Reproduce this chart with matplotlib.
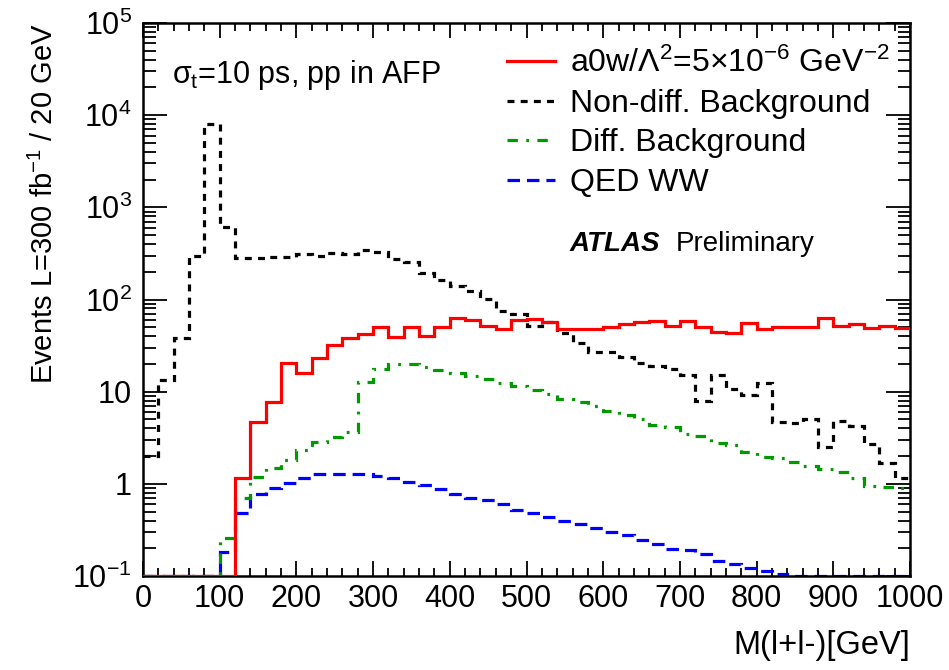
import numpy as np
import matplotlib
matplotlib.use("Agg")
import matplotlib.pyplot as plt
from matplotlib.ticker import FixedLocator, MultipleLocator, LogLocator, NullFormatter

plt.rcParams['font.family'] = ['Liberation Sans', 'DejaVu Sans']
plt.rcParams['mathtext.fontset'] = 'custom'
plt.rcParams['mathtext.rm'] = 'Liberation Sans'
plt.rcParams['mathtext.it'] = 'Liberation Sans'
plt.rcParams['lines.scale_dashes'] = False

# 50 bins of 20 GeV, 0-1000 GeV
edges = np.arange(0, 1001, 20)

signal = [0, 0, 0, 0, 0, 0, 1.15, 4.7, 7.7, 20.3,
          15.8, 23, 32, 37.8, 41.9, 50.6, 38.8, 49.8, 40.4, 49.8,
          62.4, 59.8, 51.4, 47.7, 60.3, 61.3, 56.4, 47.7, 47.7, 47.7,
          50.6, 54, 56.5, 58, 51.9, 58.5, 50.6, 44.6, 43.5, 55,
          47.7, 49.8, 49.8, 50.6, 62.4, 51.4, 53.7, 48.6, 51.4, 49.3]

nondiff = [2.0, 13.4, 38.4, 296, 7950, 610, 283, 279, 290, 290,
           308, 298, 316, 308, 343, 329, 272, 257, 195, 163,
           140, 123, 101, 75, 69, 52, 57, 43, 34, 26.7,
           27, 23.9, 20.3, 19, 17.4, 15.1, 7.95, 15.1, 10.7, 9.2,
           12.5, 4.7, 4.6, 5.1, 2.5, 4.8, 4.25, 2.7, 1.7, 1.16]

diff = [0, 0, 0, 0, 0, 0.26, 0.71, 1.19, 1.5, 1.81,
        2.33, 2.82, 3.2, 3.67, 12.8, 17.8, 19.8, 19.8, 18.4, 17.1,
        15.8, 14.8, 13.7, 12.5, 11.6, 10.4, 9.4, 8.3, 7.8, 7.0,
        6.2, 5.6, 5.1, 4.35, 4.17, 3.47, 3.3, 2.75, 2.63, 2.2,
        1.97, 1.89, 1.74, 1.57, 1.44, 1.35, 1.16, 0.95, 0.93, 0.89]

qedww = [0, 0, 0, 0, 0, 0.18, 0.48, 0.77, 0.91, 1.03,
         1.15, 1.28, 1.28, 1.28, 1.27, 1.22, 1.15, 1.05, 0.97, 0.87,
         0.78, 0.71, 0.66, 0.61, 0.52, 0.48, 0.44, 0.40, 0.37, 0.33,
         0.30, 0.276, 0.245, 0.222, 0.196, 0.19, 0.173, 0.146, 0.134, 0.121,
         0.114, 0.105, 0.09, 0.09, 0.09, 0.09, 0.09, 0.09, 0.09, 0.09]

ymin, ymax = 0.1, 1e5

fig = plt.figure(figsize=(9.49, 6.70), dpi=100)
ax = fig.add_axes([143/949, 1-576/670, 767/949, 553/670])

def clip(v):
    return np.clip(np.asarray(v, dtype=float), ymin, None)

lw = 2.3
ax.stairs(clip(signal), edges, baseline=None, color='#ff0000', lw=lw,
          label=r'a0w/$\Lambda^{2}$=5$\times$10$^{-6}$ GeV$^{-2}$', zorder=5)
ax.stairs(clip(nondiff), edges, baseline=None, color='black', lw=lw,
          linestyle=(0, (5, 4.5)), label='Non-diff. Background', zorder=4)
ax.stairs(clip(diff), edges, baseline=None, color='#009900', lw=lw,
          linestyle=(0, (7.5, 6, 2, 6)), label='Diff. Background', zorder=3)
ax.stairs(clip(qedww), edges, baseline=None, color='#0000ff', lw=lw,
          linestyle=(0, (9, 5)), label='QED WW', zorder=2)

ax.set_yscale('log')
ax.set_xlim(0, 1000)
ax.set_ylim(ymin, ymax)

ax.xaxis.set_major_locator(MultipleLocator(100))
ax.xaxis.set_minor_locator(MultipleLocator(20))
ax.yaxis.set_major_locator(FixedLocator([0.1, 1, 10, 100, 1e3, 1e4, 1e5]))
ax.yaxis.set_minor_locator(LogLocator(base=10, subs=np.arange(2, 10)))
ax.yaxis.set_minor_formatter(NullFormatter())
ax.set_yticklabels([r'10$^{-1}$', '1', '10', r'10$^{2}$', r'10$^{3}$',
                    r'10$^{4}$', r'10$^{5}$'])

ax.tick_params(which='both', direction='in', top=True, right=True,
               labelsize=22, width=1.3, color='black')
ax.tick_params(axis='x', which='major', length=11, pad=6)
ax.tick_params(axis='x', which='minor', length=6)
ax.tick_params(axis='y', which='major', length=17, pad=8)
ax.tick_params(axis='y', which='minor', length=9)
for s in ax.spines.values():
    s.set_linewidth(1.8)

ax.set_xlabel('M(l+l-)[GeV]', fontsize=23.5, loc='right')
ax.xaxis.set_label_coords(1.0, -0.098)
ax.set_ylabel(r'Events L=300 fb$^{-1}$ / 20 GeV', fontsize=21, loc='top')
ax.yaxis.set_label_coords(-0.11, 1.0)

ax.legend(loc='upper left', bbox_to_anchor=(0.458, 0.978), frameon=False,
          fontsize=23, handlelength=1.5, handletextpad=0.47,
          labelspacing=0.3, borderaxespad=0)

ax.text(0.038, 0.906, r'$\sigma_{t}$=10 ps, pp in AFP', transform=ax.transAxes,
        fontsize=22, va='center')
ax.text(0.556, 0.6, 'ATLAS', transform=ax.transAxes, fontsize=20,
        fontweight='bold', fontstyle='italic', va='center')
ax.text(0.695, 0.6, 'Preliminary', transform=ax.transAxes, fontsize=20,
        va='center')

plt.savefig('out.png', dpi=100)
